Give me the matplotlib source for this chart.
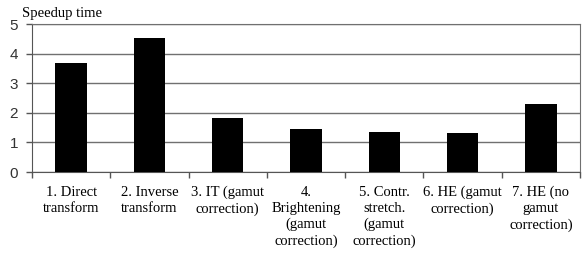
import matplotlib
matplotlib.use("Agg")
import matplotlib.pyplot as plt

categories = [
    "1. Direct\ntransform",
    "2. Inverse\ntransform",
    "3. IT (gamut\ncorrection)",
    "4.\nBrightening\n(gamut\ncorrection)",
    "5. Contr.\nstretch.\n(gamut\ncorrection)",
    "6. HE (gamut\ncorrection)",
    "7. HE (no\ngamut\ncorrection)",
]
speedup = [3.67, 4.52, 1.83, 1.44, 1.36, 1.31, 2.30]
yticks = [0, 1, 2, 3, 4, 5]

fig = plt.figure(figsize=(5.84, 2.54), dpi=100)
ax = fig.add_axes([32 / 584, 82 / 254, 548 / 584, 148 / 254])

x = list(range(len(categories)))
ax.bar(x, speedup, width=0.4, color="black", zorder=3)
ax.set_xlim(-0.5, len(categories) - 0.5)
ax.set_ylim(0, 5)

ax.set_yticks(yticks)
ax.set_yticklabels([str(v) for v in yticks], family="Liberation Sans",
                   fontsize=11, color="#333333")
ax.yaxis.grid(True, color="#707070", linewidth=1.0, zorder=0)
ax.tick_params(axis="y", length=4, width=1, color="#555555", pad=6)

# category boundary ticks, labels centred under each bar
ax.set_xticks([i - 0.5 for i in range(len(categories) + 1)])
ax.set_xticklabels([])
ax.set_xticks(x, minor=True)
ax.set_xticklabels(categories, minor=True, family="Liberation Serif",
                   fontsize=10.5, linespacing=1.3)
ax.tick_params(axis="x", which="major", length=4, width=1, color="#555555")
ax.tick_params(axis="x", which="minor", length=0, pad=10)

for side in ["top", "right"]:
    ax.spines[side].set_color("#707070")
for side in ["left", "bottom"]:
    ax.spines[side].set_color("#555555")

fig.text(22 / 584, 1 - 13 / 254, "Speedup time", family="Liberation Serif",
         fontsize=10.5, va="center", ha="left")

fig.savefig("out.png", dpi=100)
